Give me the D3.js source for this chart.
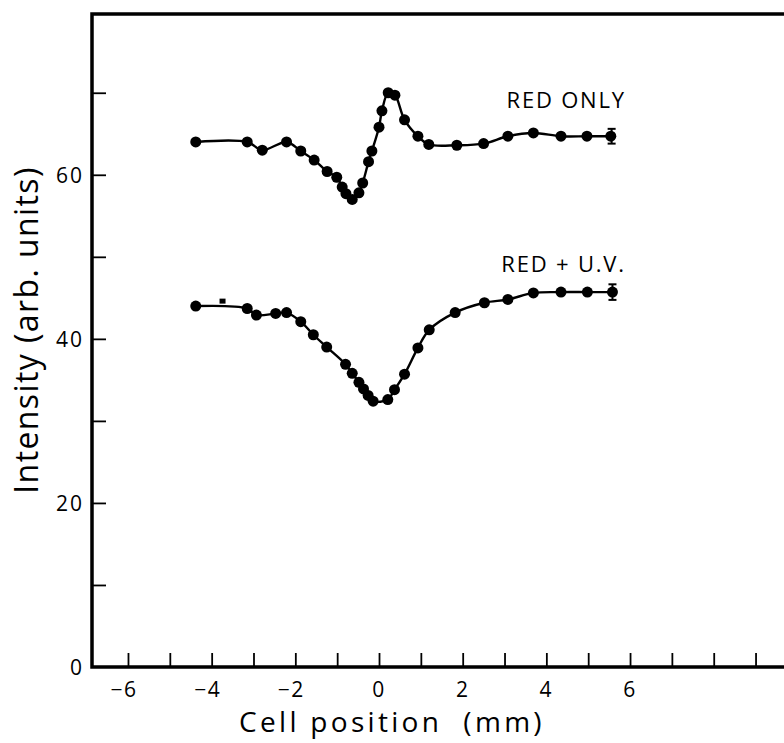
<!DOCTYPE html>
<html>
<head>
<meta charset="utf-8">
<script src="https://cdn.jsdelivr.net/npm/d3@7"></script>
<style>
  body { margin: 0; background: #fff; }
  text { font-family: "Open Sans", "DejaVu Sans", sans-serif; font-weight: 400; fill: #000; }
</style>
</head>
<body>
<svg id="chart" width="784" height="743"></svg>
<script>
// cell position (mm) and intensity
var redOnlyX = [-4.38, -3.15, -2.79, -2.21, -1.87, -1.55, -1.24, -1.01, -0.88, -0.79, -0.64, -0.48, -0.39,
                -0.25, -0.17, 0.0, 0.07, 0.22, 0.38, 0.61, 0.93, 1.19, 1.86, 2.50, 3.08, 3.69, 4.35, 4.97, 5.54];
var redOnlyY = [64.0, 64.0, 63.0, 64.0, 62.9, 61.8, 60.4, 59.7, 58.5, 57.7, 57.0, 57.8, 59.0,
                61.6, 62.9, 65.8, 67.8, 70.0, 69.7, 66.7, 64.7, 63.7, 63.6, 63.8, 64.7, 65.1, 64.7, 64.7, 64.7];
var redUvX = [-4.38, -3.15, -2.93, -2.47, -2.21, -1.87, -1.57, -1.25, -0.80, -0.64, -0.48, -0.37, -0.26,
              -0.14, 0.21, 0.37, 0.61, 0.93, 1.20, 1.82, 2.52, 3.08, 3.69, 4.35, 4.98, 5.58];
var redUvY = [44.0, 43.7, 42.9, 43.1, 43.2, 42.1, 40.5, 39.0, 36.9, 35.8, 34.7, 33.9, 33.1,
              32.4, 32.6, 33.8, 35.7, 38.9, 41.1, 43.2, 44.4, 44.8, 45.6, 45.7, 45.7, 45.7];
var errorBars = [{x: 5.56, y: 64.7, e: 0.9}, {x: 5.58, y: 45.7, e: 0.95}];
var strayMark = [{x: -3.74, y: 44.6}];
var xTickMarks = d3.range(-6, 10);
var xTickLabels = [-6, -4, -2, 0, 2, 4, 6];
var yTickMarks = d3.range(10, 80, 10);
var yTickLabels = [0, 20, 40, 60];

var svg = d3.select("#chart");
var x = d3.scaleLinear().domain([-6.86, 9.68]).range([92, 784]);
var y = d3.scaleLinear().domain([0, 79.6]).range([667, 14]);

function pts(xs, ys) {
    return xs.map(function (v, i) { return [v, ys[i]]; });
}
var series = [
    {name: "RED ONLY", data: pts(redOnlyX, redOnlyY), lx: 5.9, ly: 68.2},
    {name: "RED + U.V.", data: pts(redUvX, redUvY), lx: 5.9, ly: 48.1}
];

// frame
svg.append("path")
    .attr("d", "M" + x(9.68) + "," + y(79.6) + "H" + x(-6.86) + "V" + y(0) + "H" + x(9.68))
    .attr("fill", "none").attr("stroke", "#000").attr("stroke-width", 3.5);

// inward ticks, no axis text
var xAxis = d3.axisTop(x).tickValues(xTickMarks).tickSize(14).tickFormat("");
svg.append("g").attr("transform", "translate(0," + y(0) + ")").call(xAxis)
    .call(function (g) { g.select(".domain").remove(); g.selectAll("text").remove(); })
    .selectAll("line").attr("stroke-width", 1.8);
var yAxis = d3.axisRight(y).tickValues(yTickMarks).tickSize(14).tickFormat("");
svg.append("g").attr("transform", "translate(" + x(-6.86) + ",0)").call(yAxis)
    .call(function (g) { g.select(".domain").remove(); g.selectAll("text").remove(); })
    .selectAll("line").attr("stroke-width", 1.8);

svg.append("g").selectAll("text").data(xTickLabels).enter().append("text")
    .attr("x", function (d) { return x(d) + (d < 0 ? -4 : 0); })
    .attr("y", 697)
    .attr("text-anchor", "middle")
    .style("font-size", "21px")
    .style("letter-spacing", "1.5px")
    .text(function (d) { return d < 0 ? "\u2212" + (-d) : d; });

svg.append("g").selectAll("text").data(yTickLabels).enter().append("text")
    .attr("x", 84)
    .attr("y", function (d) { return y(d) + 8; })
    .attr("text-anchor", "end")
    .style("font-size", "21px")
    .style("letter-spacing", "2px")
    .text(function (d) { return d; });

svg.append("text")
    .attr("x", 392).attr("y", 732)
    .attr("text-anchor", "middle")
    .style("font-size", "28px")
    .style("letter-spacing", "3.3px")
    .attr("xml:space", "preserve")
    .text("Cell position  (mm)");

svg.append("text")
    .attr("transform", "translate(38,330) rotate(-90)")
    .attr("text-anchor", "middle")
    .style("font-size", "32px")
    .style("letter-spacing", "1.4px")
    .text("Intensity (arb. units)");

var line = d3.line()
    .x(function (d) { return x(d[0]); })
    .y(function (d) { return y(d[1]); })
    .curve(d3.curveCatmullRom.alpha(0.5));

series.forEach(function (s) {
    svg.append("path").datum(s.data)
        .attr("d", line)
        .attr("fill", "none").attr("stroke", "#000").attr("stroke-width", 2.4);
    svg.append("g").selectAll("circle").data(s.data).enter().append("circle")
        .attr("cx", function (d) { return x(d[0]); })
        .attr("cy", function (d) { return y(d[1]); })
        .attr("r", 5.5)
        .attr("fill", "#000");
    svg.append("text")
        .attr("x", x(s.lx)).attr("y", y(s.ly))
        .attr("text-anchor", "end")
        .style("font-size", "22px")
        .style("letter-spacing", "1.8px")
        .text(s.name);
});

var eb = svg.append("g").attr("stroke", "#000").attr("stroke-width", 2);
errorBars.forEach(function (b) {
    eb.append("line").attr("x1", x(b.x)).attr("x2", x(b.x)).attr("y1", y(b.y - b.e)).attr("y2", y(b.y + b.e));
    [b.y - b.e, b.y + b.e].forEach(function (v) {
        eb.append("line").attr("x1", x(b.x) - 4).attr("x2", x(b.x) + 4).attr("y1", y(v)).attr("y2", y(v));
    });
});

svg.append("g").selectAll("rect").data(strayMark).enter().append("rect")
    .attr("x", function (d) { return x(d.x) - 3; })
    .attr("y", function (d) { return y(d.y) - 2.5; })
    .attr("width", 6).attr("height", 5)
    .attr("fill", "#000");
</script>
</body>
</html>
